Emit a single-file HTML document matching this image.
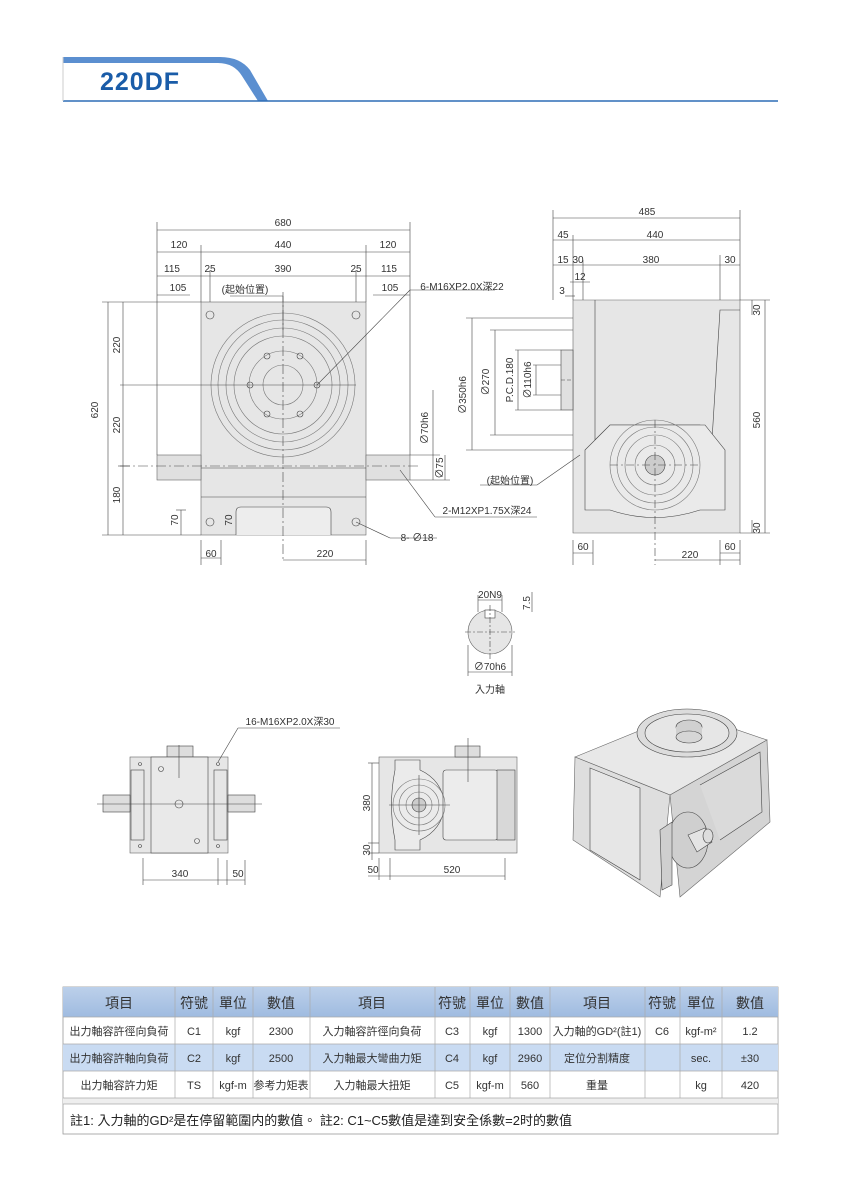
<!DOCTYPE html>
<html><head><meta charset="utf-8"><style>
html,body{margin:0;padding:0;background:#fff;width:855px;height:1200px;overflow:hidden}
svg{display:block}
text{font-family:"Liberation Sans","Noto Sans CJK TC",sans-serif;fill:#333}
</style></head><body>
<svg width="855" height="1200" viewBox="0 0 855 1200" xmlns="http://www.w3.org/2000/svg">
<!-- header -->
<path d="M63 57 L220 57 Q240 57 250 70 L268 101 L258 101 L242 76 Q234 63 218 63 L63 63 Z" fill="#5b8fd0"/>
<line x1="63" y1="101" x2="778" y2="101" stroke="#2d6db5" stroke-width="1.5"/>
<line x1="63" y1="57" x2="63" y2="101" stroke="#ccc" stroke-width="1"/>
<text x="100" y="90" font-size="25" font-weight="bold" style="fill:#1a5ca8;letter-spacing:1px">220DF</text>

<g stroke="#444" stroke-width="0.6" fill="none">
<!-- front view body -->
<rect x="201" y="302" width="165" height="233" fill="#e6e6e6" stroke="#666"/>
<rect x="157" y="455" width="44" height="25" fill="#e0e0e0" stroke="#666"/>
<rect x="366" y="455" width="44" height="25" fill="#e0e0e0" stroke="#666"/>
<line x1="201" y1="468" x2="366" y2="468"/>
<line x1="201" y1="497" x2="366" y2="497"/>
<path d="M236 535 L236 512 Q236 507 241 507 L326 507 Q331 507 331 512 L331 535" fill="#ededed"/>
<circle cx="283" cy="385" r="72" stroke="#777"/>
<circle cx="283" cy="385" r="65" stroke="#777"/>
<circle cx="283" cy="385" r="57" stroke="#777"/>
<circle cx="283" cy="385" r="49" stroke="#777"/>
<circle cx="283" cy="385" r="34" stroke="#777"/>
<circle cx="283" cy="385" r="20" stroke="#777"/>
<circle cx="250" cy="385" r="3"/><circle cx="317" cy="385" r="3"/>
<circle cx="267" cy="356" r="3"/><circle cx="300" cy="356" r="3"/>
<circle cx="267" cy="414" r="3"/><circle cx="300" cy="414" r="3"/>
<circle cx="210" cy="315" r="4"/><circle cx="356" cy="315" r="4"/>
<circle cx="210" cy="522" r="4"/><circle cx="356" cy="522" r="4"/>
<line x1="120" y1="385" x2="356" y2="385"/>
<line x1="283" y1="292" x2="283" y2="560" stroke-dasharray="10,3,2,3"/>
<line x1="120" y1="466" x2="420" y2="466" stroke-dasharray="10,3,2,3"/>
<!-- front dims -->
<line x1="157" y1="230" x2="410" y2="230"/>
<line x1="157" y1="252" x2="410" y2="252"/>
<line x1="157" y1="276" x2="410" y2="276"/>
<line x1="157" y1="295" x2="190" y2="295"/><line x1="373" y1="295" x2="410" y2="295"/>
<line x1="157" y1="222" x2="157" y2="455"/><line x1="410" y1="222" x2="410" y2="455"/>
<line x1="201" y1="245" x2="201" y2="302"/><line x1="366" y1="245" x2="366" y2="302"/>
<line x1="210" y1="270" x2="210" y2="302"/><line x1="356" y1="270" x2="356" y2="302"/>
<line x1="102" y1="302" x2="201" y2="302"/><line x1="102" y1="535" x2="201" y2="535"/>
<line x1="108" y1="302" x2="108" y2="535"/>
<line x1="123" y1="302" x2="123" y2="535"/>
<line x1="118" y1="466" x2="130" y2="466"/>
<line x1="181" y1="510" x2="181" y2="535"/><line x1="176" y1="510" x2="186" y2="510"/>
<line x1="201" y1="540" x2="201" y2="565"/><line x1="221" y1="540" x2="221" y2="565"/>
<line x1="283" y1="560" x2="366" y2="560"/><line x1="366" y1="540" x2="366" y2="565"/>
<line x1="201" y1="558" x2="221" y2="558"/>
<line x1="410" y1="455" x2="440" y2="455"/><line x1="410" y1="480" x2="450" y2="480"/>
<line x1="433" y1="390" x2="433" y2="480"/><line x1="445" y1="455" x2="445" y2="480"/>
<line x1="317" y1="385" x2="410" y2="290"/><line x1="410" y1="290" x2="495" y2="290"/>
<line x1="400" y1="470" x2="435" y2="517"/><line x1="435" y1="517" x2="537" y2="517"/>
<line x1="356" y1="522" x2="390" y2="538"/><line x1="390" y1="538" x2="437" y2="538"/>
<line x1="230" y1="296" x2="283" y2="296"/><line x1="283" y1="296" x2="283" y2="330"/>

<!-- side view -->
<path d="M573 300 L740 300 L740 533 L573 533 Z" fill="#e6e6e6" stroke="#666"/>
<rect x="561" y="350" width="12" height="60" fill="#e0e0e0"/>
<path d="M595 300 L595 440 L610 425 L700 425 L712 440 L720 310 L740 310"/>
<path d="M585 450 L610 425 L705 425 L725 450 L725 510 L700 510 Q655 525 610 510 L585 510 Z" fill="#eaeaea"/>
<circle cx="655" cy="465" r="45" stroke="#777"/>
<circle cx="655" cy="465" r="38" stroke="#777"/>
<circle cx="655" cy="465" r="30" stroke="#777"/>
<circle cx="655" cy="465" r="20" stroke="#777"/>
<circle cx="655" cy="465" r="10" fill="#ccc"/>
<line x1="561" y1="380" x2="573" y2="380" stroke-dasharray="4,2"/>
<line x1="610" y1="465" x2="700" y2="465" stroke-dasharray="8,3,2,3"/>
<line x1="655" y1="420" x2="655" y2="565" stroke-dasharray="8,3,2,3"/>
<line x1="553" y1="210" x2="553" y2="300"/><line x1="740" y1="210" x2="740" y2="300"/>
<line x1="553" y1="218" x2="740" y2="218"/>
<line x1="553" y1="240" x2="740" y2="240"/>
<line x1="573" y1="235" x2="573" y2="300"/>
<line x1="553" y1="265" x2="740" y2="265"/>
<line x1="583" y1="260" x2="583" y2="300"/><line x1="720" y1="255" x2="720" y2="300"/>
<line x1="570" y1="282" x2="590" y2="282"/><line x1="565" y1="296" x2="575" y2="296"/>
<line x1="740" y1="300" x2="770" y2="300"/><line x1="740" y1="533" x2="770" y2="533"/>
<line x1="765" y1="300" x2="765" y2="533"/><line x1="752" y1="300" x2="752" y2="315"/><line x1="752" y1="520" x2="752" y2="533"/>
<line x1="466" y1="318" x2="573" y2="318"/><line x1="466" y1="450" x2="573" y2="450"/>
<line x1="472" y1="318" x2="472" y2="450"/>
<line x1="490" y1="330" x2="573" y2="330"/><line x1="490" y1="435" x2="573" y2="435"/>
<line x1="495" y1="330" x2="495" y2="435"/>
<line x1="515" y1="350" x2="561" y2="350"/><line x1="515" y1="410" x2="561" y2="410"/>
<line x1="518" y1="350" x2="518" y2="410"/>
<line x1="533" y1="365" x2="561" y2="365"/><line x1="533" y1="395" x2="561" y2="395"/>
<line x1="536" y1="365" x2="536" y2="395"/>
<line x1="573" y1="540" x2="573" y2="565"/><line x1="593" y1="540" x2="593" y2="565"/>
<line x1="573" y1="553" x2="593" y2="553"/>
<line x1="720" y1="540" x2="720" y2="565"/><line x1="740" y1="540" x2="740" y2="565"/>
<line x1="720" y1="553" x2="740" y2="553"/><line x1="655" y1="560" x2="740" y2="560"/>
<line x1="537" y1="485" x2="580" y2="455"/><line x1="480" y1="485" x2="537" y2="485"/>

<!-- input shaft section -->
<circle cx="490" cy="632" r="22" fill="#e6e6e6" stroke="#666"/>
<rect x="485" y="610" width="10" height="8" fill="#fff"/>
<line x1="490" y1="605" x2="490" y2="660" stroke-dasharray="6,2,2,2"/>
<line x1="465" y1="632" x2="515" y2="632" stroke-dasharray="6,2,2,2"/>
<line x1="478" y1="600" x2="502" y2="600"/><line x1="478" y1="595" x2="478" y2="612"/><line x1="502" y1="595" x2="502" y2="612"/>
<line x1="468" y1="672" x2="512" y2="672"/><line x1="468" y1="645" x2="468" y2="676"/><line x1="512" y1="645" x2="512" y2="676"/>
<line x1="532" y1="592" x2="532" y2="612"/>

<!-- bottom left view -->
<rect x="130" y="757" width="98" height="96" fill="#e6e6e6" stroke="#666"/>
<rect x="167" y="746" width="26" height="11" fill="#ddd"/>
<rect x="103" y="795" width="27" height="17" fill="#ddd"/><rect x="228" y="795" width="27" height="17" fill="#ddd"/>
<rect x="151" y="757" width="57" height="96" fill="#e9e9e9"/>
<rect x="131" y="770" width="13" height="70"/><rect x="214" y="770" width="13" height="70"/>
<circle cx="161" cy="769" r="2.5"/><circle cx="197" cy="841" r="2.5"/>
<circle cx="179" cy="804" r="4"/>
<circle cx="140" cy="764" r="1.5"/><circle cx="218" cy="764" r="1.5"/><circle cx="140" cy="846" r="1.5"/><circle cx="218" cy="846" r="1.5"/>
<line x1="179" y1="745" x2="179" y2="778"/>
<line x1="97" y1="804" x2="262" y2="804"/>
<line x1="218" y1="762" x2="238" y2="728"/><line x1="238" y1="728" x2="340" y2="728"/>
<line x1="143" y1="858" x2="143" y2="885"/><line x1="218" y1="858" x2="218" y2="885"/><line x1="227" y1="860" x2="227" y2="885"/><line x1="245" y1="860" x2="245" y2="885"/>
<line x1="143" y1="880" x2="245" y2="880"/>

<!-- bottom middle view -->
<rect x="379" y="757" width="138" height="96" fill="#e6e6e6" stroke="#666"/>
<rect x="455" y="746" width="25" height="11" fill="#ddd"/>
<path d="M395 760 L420 760 L420 770 Q442 780 445 805 Q442 830 420 840 L420 850 L395 850 L395 840 Q388 805 395 770 Z" fill="#ebebeb"/>
<rect x="443" y="770" width="55" height="70" rx="3" fill="#ececec"/>
<rect x="497" y="770" width="18" height="70" fill="#d8d8d8"/>
<circle cx="419" cy="805" r="26" stroke="#777"/><circle cx="419" cy="805" r="20" stroke="#777"/><circle cx="419" cy="805" r="13" stroke="#777"/><circle cx="419" cy="805" r="7" fill="#ccc"/>
<line x1="389" y1="805" x2="450" y2="805"/><line x1="419" y1="775" x2="419" y2="835"/>
<line x1="468" y1="738" x2="468" y2="782"/>
<line x1="368" y1="763" x2="379" y2="763"/><line x1="368" y1="843" x2="379" y2="843"/><line x1="372" y1="763" x2="372" y2="860"/>
<line x1="368" y1="853" x2="379" y2="853"/>
<line x1="379" y1="858" x2="379" y2="880"/><line x1="390" y1="858" x2="390" y2="880"/><line x1="505" y1="858" x2="505" y2="880"/>
<line x1="368" y1="876" x2="505" y2="876"/>

<!-- 3D view -->
<path d="M575 757 L685 712 L767 740 L670 795 Z" fill="#e8e8e8" stroke="#666"/>
<path d="M670 795 L767 740 L770 822 L680 897 Z" fill="#d4d4d4" stroke="#666"/>
<path d="M575 757 L670 795 L660 897 L573 840 Z" fill="#dedede" stroke="#666"/>
<path d="M590 768 L640 788 L640 880 L590 850 Z" fill="#e6e6e6"/>
<path d="M700 785 L760 752 L762 812 L720 840" fill="#dadada"/>
<ellipse cx="687" cy="733" rx="50" ry="24" fill="#dcdcdc"/>
<ellipse cx="687" cy="733" rx="42" ry="19" fill="#e6e6e6"/>
<ellipse cx="689" cy="727" rx="13" ry="7" fill="#d0d0d0"/>
<rect x="676" y="727" width="26" height="10" fill="#d0d0d0" stroke="none"/>
<ellipse cx="689" cy="737" rx="13" ry="6" fill="#d6d6d6"/>
<ellipse cx="688" cy="840" rx="20" ry="28" fill="#cfcfcf"/>
<path d="M688 835 L705 828 L712 842 L697 852 Z" fill="#e4e4e4"/>
<ellipse cx="708" cy="836" rx="5" ry="7" fill="#ddd"/>
<path d="M660 830 L672 822 L672 885 L662 890 Z" fill="#cfcfcf"/>
</g>

<g font-size="10" text-anchor="middle">
<text x="283" y="226">680</text>
<text x="179" y="248">120</text><text x="283" y="248">440</text><text x="388" y="248">120</text>
<text x="172" y="272">115</text><text x="210" y="272">25</text><text x="283" y="272">390</text><text x="356" y="272">25</text><text x="389" y="272">115</text>
<text x="178" y="291">105</text><text x="390" y="291">105</text>
<text x="245" y="293">(起始位置)</text>
<text x="462" y="290">6-M16XP2.0X深22</text>
<text x="487" y="514">2-M12XP1.75X深24</text>
<text x="417" y="541">8- ∅18</text>
<text x="211" y="557">60</text><text x="325" y="557">220</text>
<text x="510" y="484">(起始位置)</text>
<text x="647" y="215">485</text><text x="655" y="238">440</text>
<text x="563" y="238">45</text>
<text x="563" y="263">15</text><text x="578" y="263">30</text><text x="651" y="263">380</text><text x="730" y="263">30</text>
<text x="580" y="280">12</text><text x="562" y="294">3</text>
<text x="583" y="550">60</text><text x="730" y="550">60</text><text x="690" y="558">220</text>
<text x="490" y="598">20N9</text>
<text x="490" y="670">∅70h6</text>
<text x="490" y="693">入力軸</text>
<text x="290" y="725">16-M16XP2.0X深30</text>
<text x="180" y="877">340</text><text x="238" y="877">50</text>
<text x="373" y="873">50</text><text x="452" y="873">520</text>
</g>
<g font-size="10" text-anchor="middle">
<text transform="translate(120,345) rotate(-90)">220</text>
<text transform="translate(120,425) rotate(-90)">220</text>
<text transform="translate(120,495) rotate(-90)">180</text>
<text transform="translate(98,410) rotate(-90)">620</text>
<text transform="translate(178,520) rotate(-90)">70</text>
<text transform="translate(232,520) rotate(-90)">70</text>
<text transform="translate(428,428) rotate(-90)">∅70h6</text>
<text transform="translate(443,468) rotate(-90)">∅75</text>
<text transform="translate(466,395) rotate(-90)">∅350h6</text>
<text transform="translate(489,382) rotate(-90)">∅270</text>
<text transform="translate(513,380) rotate(-90)">P.C.D.180</text>
<text transform="translate(531,380) rotate(-90)">∅110h6</text>
<text transform="translate(760,420) rotate(-90)">560</text>
<text transform="translate(760,310) rotate(-90)">30</text>
<text transform="translate(760,528) rotate(-90)">30</text>
<text transform="translate(530,603) rotate(-90)">7.5</text>
<text transform="translate(370,803) rotate(-90)">380</text>
<text transform="translate(370,850) rotate(-90)">30</text>
</g>

<!-- table -->
<defs><linearGradient id="hg" x1="0" y1="0" x2="0" y2="1"><stop offset="0" stop-color="#bcd0ea"/><stop offset="1" stop-color="#9fbbe0"/></linearGradient></defs>
<rect x="63" y="987" width="715" height="147" fill="#fff" stroke="#999" stroke-width="0.8"/>
<rect x="63" y="987" width="715" height="30" fill="url(#hg)"/>
<rect x="63" y="1044" width="715" height="27" fill="#c9dbf2"/>
<rect x="63" y="1098" width="715" height="6" fill="#eee"/>
<g stroke="#aaa" stroke-width="0.7">
<line x1="63" y1="1017" x2="778" y2="1017"/><line x1="63" y1="1044" x2="778" y2="1044"/>
<line x1="63" y1="1071" x2="778" y2="1071"/><line x1="63" y1="1098" x2="778" y2="1098"/><line x1="63" y1="1104" x2="778" y2="1104"/>
<line x1="175" y1="987" x2="175" y2="1098"/><line x1="213" y1="987" x2="213" y2="1098"/><line x1="253" y1="987" x2="253" y2="1098"/>
<line x1="310" y1="987" x2="310" y2="1098"/><line x1="435" y1="987" x2="435" y2="1098"/><line x1="470" y1="987" x2="470" y2="1098"/>
<line x1="510" y1="987" x2="510" y2="1098"/><line x1="550" y1="987" x2="550" y2="1098"/><line x1="645" y1="987" x2="645" y2="1098"/>
<line x1="680" y1="987" x2="680" y2="1098"/><line x1="722" y1="987" x2="722" y2="1098"/>
</g>
<g font-size="14" text-anchor="middle" style="fill:#222">
<text x="119" y="1008">項目</text><text x="194" y="1008">符號</text><text x="233" y="1008">單位</text><text x="281" y="1008">數值</text>
<text x="372" y="1008">項目</text><text x="452" y="1008">符號</text><text x="490" y="1008">單位</text><text x="530" y="1008">數值</text>
<text x="597" y="1008">項目</text><text x="662" y="1008">符號</text><text x="701" y="1008">單位</text><text x="750" y="1008">數值</text>
</g>
<g font-size="11" text-anchor="middle">
<text x="119" y="1035">出力軸容許徑向負荷</text><text x="194" y="1035">C1</text><text x="233" y="1035">kgf</text><text x="281" y="1035">2300</text>
<text x="372" y="1035">入力軸容許徑向負荷</text><text x="452" y="1035">C3</text><text x="490" y="1035">kgf</text><text x="530" y="1035">1300</text>
<text x="597" y="1035">入力軸的GD²(註1)</text><text x="662" y="1035">C6</text><text x="701" y="1035">kgf-m²</text><text x="750" y="1035">1.2</text>
<text x="119" y="1062">出力軸容許軸向負荷</text><text x="194" y="1062">C2</text><text x="233" y="1062">kgf</text><text x="281" y="1062">2500</text>
<text x="372" y="1062">入力軸最大彎曲力矩</text><text x="452" y="1062">C4</text><text x="490" y="1062">kgf</text><text x="530" y="1062">2960</text>
<text x="597" y="1062">定位分割精度</text><text x="701" y="1062">sec.</text><text x="750" y="1062">±30</text>
<text x="119" y="1089">出力軸容許力矩</text><text x="194" y="1089">TS</text><text x="233" y="1089">kgf-m</text><text x="281" y="1089">参考力矩表</text>
<text x="372" y="1089">入力軸最大扭矩</text><text x="452" y="1089">C5</text><text x="490" y="1089">kgf-m</text><text x="530" y="1089">560</text>
<text x="597" y="1089">重量</text><text x="701" y="1089">kg</text><text x="750" y="1089">420</text>
</g>
<text x="70" y="1125" font-size="13" style="fill:#222">註1: 入力軸的GD²是在停留範圍内的數值。 註2: C1~C5數值是達到安全係數=2时的數值</text>
</svg>
</body></html>
